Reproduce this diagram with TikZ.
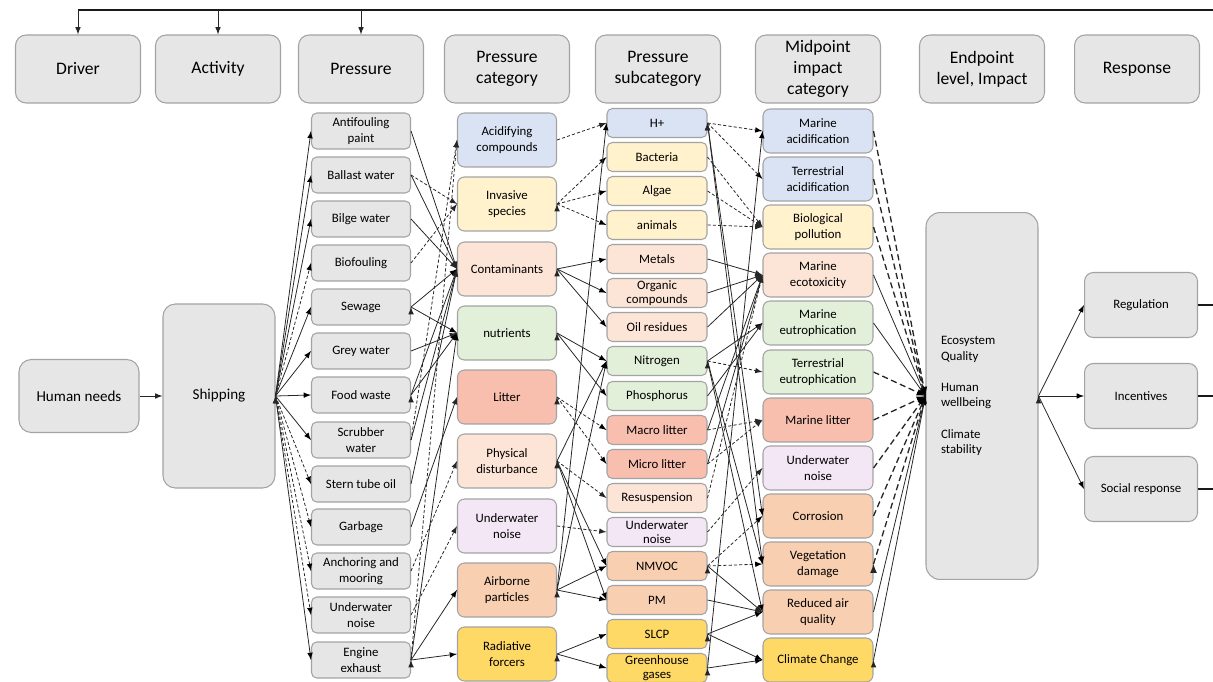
\documentclass[tikz,border=0pt]{standalone}
\usepackage{fontspec}
\setmainfont{Carlito}
\definecolor{boxgray}{HTML}{E7E6E6}
\definecolor{edgegray}{HTML}{A3A3A3}
\definecolor{blueF}{HTML}{DAE3F3}
\definecolor{yellowF}{HTML}{FFF2CC}
\definecolor{peachF}{HTML}{FCE4D6}
\definecolor{greenF}{HTML}{E2F0D9}
\definecolor{redF}{HTML}{F8BFAF}
\definecolor{lilacF}{HTML}{F3E6F5}
\definecolor{orangeF}{HTML}{F9CFB1}
\definecolor{goldF}{HTML}{FFD966}
\begin{document}
\begin{tikzpicture}[
    x=0.02cm, y=-0.02cm,
    every node/.style={text=black},
    base/.style={rectangle, rounded corners=3pt, draw=edgegray, line width=0.6pt, align=center, inner sep=1pt},
    hnode/.style={base, rounded corners=6pt, fill=boxgray, minimum width=2.5cm, minimum height=1.36cm, font=\fontsize{10}{12}\selectfont},
    bignode/.style={base, rounded corners=7pt, fill=boxgray, font=\fontsize{8.6}{10.3}\selectfont},
    pnode/.style={base, fill=boxgray, minimum width=1.98cm, minimum height=0.72cm, font=\fontsize{7.3}{8.8}\selectfont},
    cnode/.style={base, rounded corners=4pt, minimum width=1.98cm, minimum height=1.08cm, font=\fontsize{7.3}{8.8}\selectfont},
    snode/.style={base, inner ysep=0pt, minimum width=2cm, minimum height=0.58cm, font=\fontsize{7.3}{7.8}\selectfont},
    mnode/.style={base, rounded corners=4pt, minimum width=2.2cm, minimum height=0.88cm, font=\fontsize{7.3}{8.8}\selectfont},
    rnode/.style={base, rounded corners=5pt, fill=boxgray, minimum width=2.26cm, minimum height=1.3cm, font=\fontsize{7.3}{8.8}\selectfont},
    link/.style={-latex, line width=0.45pt, draw=black!85},
    dlink/.style={link, dash pattern=on 1.8pt off 1.2pt},
    elink/.style={-latex, line width=0.75pt, draw=black!85, dash pattern=on 3.5pt off 2pt},
    fback/.style={line width=1.3pt, draw=black!90}
]
    \useasboundingbox (0,0) rectangle (1213,682);

    % header row
    \node[hnode] (driver) at (78,69) {Driver};
    \node[hnode] (activity) at (218,69) {Activity};
    \node[hnode] (pressure) at (361,69) {Pressure};
    \node[hnode] (pcat) at (507,69) {Pressure\\category};
    \node[hnode] (psub) at (658,69) {Pressure\\subcategory};
    \node[hnode] (midpoint) at (818,69) {Midpoint\\impact\\category};
    \node[hnode] (endlevel) at (982,69) {Endpoint\\level, Impact};
    \node[hnode] (response) at (1137,69) {Response};

    % driver and activity
    \node[bignode, minimum width=2.4cm, minimum height=1.46cm] (human) at (79,396) {Human needs};
    \node[bignode, minimum width=2.24cm, minimum height=3.68cm] (ship) at (219,396) {Shipping};

    % pressures
    \node[pnode] (antifoul) at (361,131) {Antifouling\\paint};
    \node[pnode] (ballast) at (361,175) {Ballast water};
    \node[pnode] (bilge) at (361,219) {Bilge water};
    \node[pnode] (biofoul) at (361,263) {Biofouling};
    \node[pnode] (sewage) at (361,307) {Sewage};
    \node[pnode] (grey) at (361,351) {Grey water};
    \node[pnode] (food) at (361,395) {Food waste};
    \node[pnode] (scrubber) at (361,440) {Scrubber\\water};
    \node[pnode] (stern) at (361,484) {Stern tube oil};
    \node[pnode] (garbage) at (361,527) {Garbage};
    \node[pnode] (anchor) at (361,571) {Anchoring and\\mooring};
    \node[pnode] (pnoise) at (361,615) {Underwater\\noise};
    \node[pnode] (exhaust) at (361,660) {Engine\\exhaust};

    % pressure categories
    \node[cnode, fill=blueF] (acid) at (507,140) {Acidifying\\compounds};
    \node[cnode, fill=yellowF] (invasive) at (507,204) {Invasive\\species};
    \node[cnode, fill=peachF] (contam) at (507,269) {Contaminants};
    \node[cnode, fill=greenF] (nutr) at (507,333) {nutrients};
    \node[cnode, fill=redF] (litter) at (507,397) {Litter};
    \node[cnode, fill=peachF] (physdist) at (507,461) {Physical\\disturbance};
    \node[cnode, fill=lilacF] (cnoise) at (507,526) {Underwater\\noise};
    \node[cnode, fill=orangeF] (airborne) at (507,590) {Airborne\\particles};
    \node[cnode, fill=goldF] (radiative) at (507,654) {Radiative\\forcers};

    % pressure subcategories
    \node[snode, fill=blueF] (hplus) at (657,123) {H+};
    \node[snode, fill=yellowF] (bacteria) at (657,157) {Bacteria};
    \node[snode, fill=yellowF] (algae) at (657,191) {Algae};
    \node[snode, fill=yellowF] (animals) at (657,225) {animals};
    \node[snode, fill=peachF] (metals) at (657,259) {Metals};
    \node[snode, fill=peachF] (organic) at (657,293) {Organic\\compounds};
    \node[snode, fill=peachF] (oil) at (657,327) {Oil residues};
    \node[snode, fill=greenF] (nitrogen) at (657,361) {Nitrogen};
    \node[snode, fill=greenF] (phosphorus) at (657,396) {Phosphorus};
    \node[snode, fill=redF] (macro) at (657,430) {Macro litter};
    \node[snode, fill=redF] (micro) at (657,464) {Micro litter};
    \node[snode, fill=peachF] (resusp) at (657,498) {Resuspension};
    \node[snode, fill=lilacF] (snoise) at (657,532) {Underwater\\noise};
    \node[snode, fill=orangeF] (nmvoc) at (657,566) {NMVOC};
    \node[snode, fill=orangeF] (pm) at (657,600) {PM};
    \node[snode, fill=goldF] (slcp) at (657,634) {SLCP};
    \node[snode, fill=goldF] (ghg) at (657,668) {Greenhouse\\gases};

    % midpoint impact categories
    \node[mnode, fill=blueF] (macid) at (818,131) {Marine\\acidification};
    \node[mnode, fill=blueF] (tacid) at (818,179) {Terrestrial\\acidification};
    \node[mnode, fill=yellowF] (biopoll) at (818,227) {Biological\\pollution};
    \node[mnode, fill=peachF] (ecotox) at (818,275) {Marine\\ecotoxicity};
    \node[mnode, fill=greenF] (meutro) at (818,323) {Marine\\eutrophication};
    \node[mnode, fill=greenF] (teutro) at (818,372) {Terrestrial\\eutrophication};
    \node[mnode, fill=redF] (mlitter) at (818,420) {Marine litter};
    \node[mnode, fill=lilacF] (mnoise) at (818,468) {Underwater\\noise};
    \node[mnode, fill=orangeF] (corrosion) at (818,516) {Corrosion};
    \node[mnode, fill=orangeF] (vegdam) at (818,564) {Vegetation\\damage};
    \node[mnode, fill=orangeF] (airq) at (818,612) {Reduced air\\quality};
    \node[mnode, fill=goldF] (climate) at (818,660) {Climate Change};

    % endpoint and responses
    \node[base, rounded corners=8pt, fill=boxgray, minimum height=7.34cm, text width=1.64cm, inner xsep=0.3cm, align=left, font=\fontsize{7.3}{8.8}\selectfont] (endpoint) at (982,396) {Ecosystem\\Quality\\[9pt]Human\\wellbeing\\[9pt]Climate\\stability};
    \node[rnode] (regul) at (1141,305) {Regulation};
    \node[rnode] (incent) at (1141,396) {Incentives};
    \node[rnode] (social) at (1141,489) {Social response};

    % feedback loop
    \coordinate (fbR) at (1213,10);
    \coordinate (fbL) at (78,10);
    \draw[fback] (fbR) -- (fbL);
    \draw[link] (fbL) -- (driver.north);
    \draw[link] (activity.north |- fbR) -- (activity.north);
    \draw[link] (pressure.north |- fbR) -- (pressure.north);
    \draw[fback] (regul.east) -- (regul.east -| fbR);
    \draw[fback] (incent.east) -- (incent.east -| fbR);
    \draw[fback] (social.east) -- (social.east -| fbR);

    % driver -> activity -> pressures
    \draw[link] (human) -- (ship);
    \draw[link] (ship.east) edge (antifoul.west) edge (ballast.west) edge (bilge.west) edge (sewage.west)
        edge (grey.west) edge (food.west) edge (scrubber.west) edge (exhaust.west);
    \draw[dlink] (ship.east) edge (biofoul.west) edge (stern.west) edge (garbage.west) edge (anchor.west) edge (pnoise.west);

    % pressures -> categories
    \draw[link] (antifoul.east) -- (contam.west);
    \draw[link] (ballast.east) -- (contam.west);
    \draw[dlink] (ballast.east) -- (invasive.west);
    \draw[link] (bilge.east) -- (contam.west);
    \draw[dlink] (biofoul.east) -- (invasive.west);
    \draw[link] (sewage.east) edge (contam.west) edge (nutr.west);
    \draw[link] (grey.east) -- (nutr.west);
    \draw[link] (food.east) edge (nutr.west) edge (contam.west);
    \draw[link] (scrubber.east) -- (contam.west);
    \draw[dlink] (scrubber.east) -- (acid.west);
    \draw[link] (stern.east) -- (contam.west);
    \draw[link] (garbage.east) -- (litter.west);
    \draw[dlink] (anchor.east) -- (physdist.west);
    \draw[dlink] (pnoise.east) -- (cnoise.west);
    \draw[dlink] (exhaust.east) -- (acid.west);
    \draw[link] (exhaust.east) edge (nutr.west) edge (airborne.west) edge (radiative.west);

    % categories -> subcategories
    \draw[dlink] (acid.east) -- (hplus.west);
    \draw[dlink] (invasive.east) edge (bacteria.west) edge (algae.west) edge (animals.west);
    \draw[link] (contam.east) edge (metals.west) edge (organic.west) edge (oil.west);
    \draw[link] (nutr.east) edge (nitrogen.west) edge (phosphorus.west);
    \draw[dlink] (litter.east) edge (macro.west) edge (micro.west);
    \draw[dlink] (physdist.east) -- (resusp.west);
    \draw[link] (physdist.east) edge (nitrogen.west) edge (nmvoc.west) edge (pm.west);
    \draw[dlink] (cnoise.east) -- (snoise.west);
    \draw[link] (airborne.east) edge (hplus.west) edge (nitrogen.west) edge (nmvoc.west) edge (pm.west);
    \draw[link] (radiative.east) edge (slcp.west) edge (ghg.west);

    % subcategories -> midpoints
    \draw[dlink] (hplus.east) edge (macid.west) edge (tacid.west);
    \draw[link] (hplus.east) edge (corrosion.west) edge (vegdam.west);
    \draw[dlink] (bacteria.east) -- (biopoll.west);
    \draw[dlink] (algae.east) -- (biopoll.west);
    \draw[dlink] (animals.east) -- (biopoll.west);
    \draw[link] (metals.east) -- (ecotox.west);
    \draw[link] (organic.east) -- (ecotox.west);
    \draw[link] (oil.east) -- (ecotox.west);
    \draw[link] (nitrogen.east) edge (meutro.west) edge (vegdam.west) edge (airq.west);
    \draw[dlink] (nitrogen.east) -- (teutro.west);
    \draw[link] (phosphorus.east) -- (meutro.west);
    \draw[dlink] (macro.east) -- (mlitter.west);
    \draw[link] (macro.east) -- (ecotox.west);
    \draw[dlink] (micro.east) -- (mlitter.west);
    \draw[link] (micro.east) -- (ecotox.west);
    \draw[dlink] (resusp.east) -- (ecotox.west);
    \draw[dlink] (snoise.east) -- (mnoise.west);
    \draw[dlink] (nmvoc.east) edge (corrosion.west) edge (vegdam.west);
    \draw[link] (nmvoc.east) -- (airq.west);
    \draw[link] (pm.east) -- (airq.west);
    \draw[link] (slcp.east) edge (airq.west) edge (climate.west);
    \draw[link] (ghg.east) edge (climate.west) edge (macid.west);

    % midpoints -> endpoint
    \draw[elink] (macid.east) edge (endpoint.west) (tacid.east) edge (endpoint.west) (biopoll.east) edge (endpoint.west)
        (teutro.east) edge (endpoint.west) (mlitter.east) edge (endpoint.west) (mnoise.east) edge (endpoint.west)
        (corrosion.east) edge (endpoint.west) (vegdam.east) edge (endpoint.west);
    \draw[link] (ecotox.east) edge (endpoint.west) (meutro.east) edge (endpoint.west)
        (airq.east) edge (endpoint.west) (climate.east) edge (endpoint.west);

    % endpoint -> responses
    \draw[link] (endpoint.east) edge (regul.west) edge (incent.west) edge (social.west);
\end{tikzpicture}
\end{document}
